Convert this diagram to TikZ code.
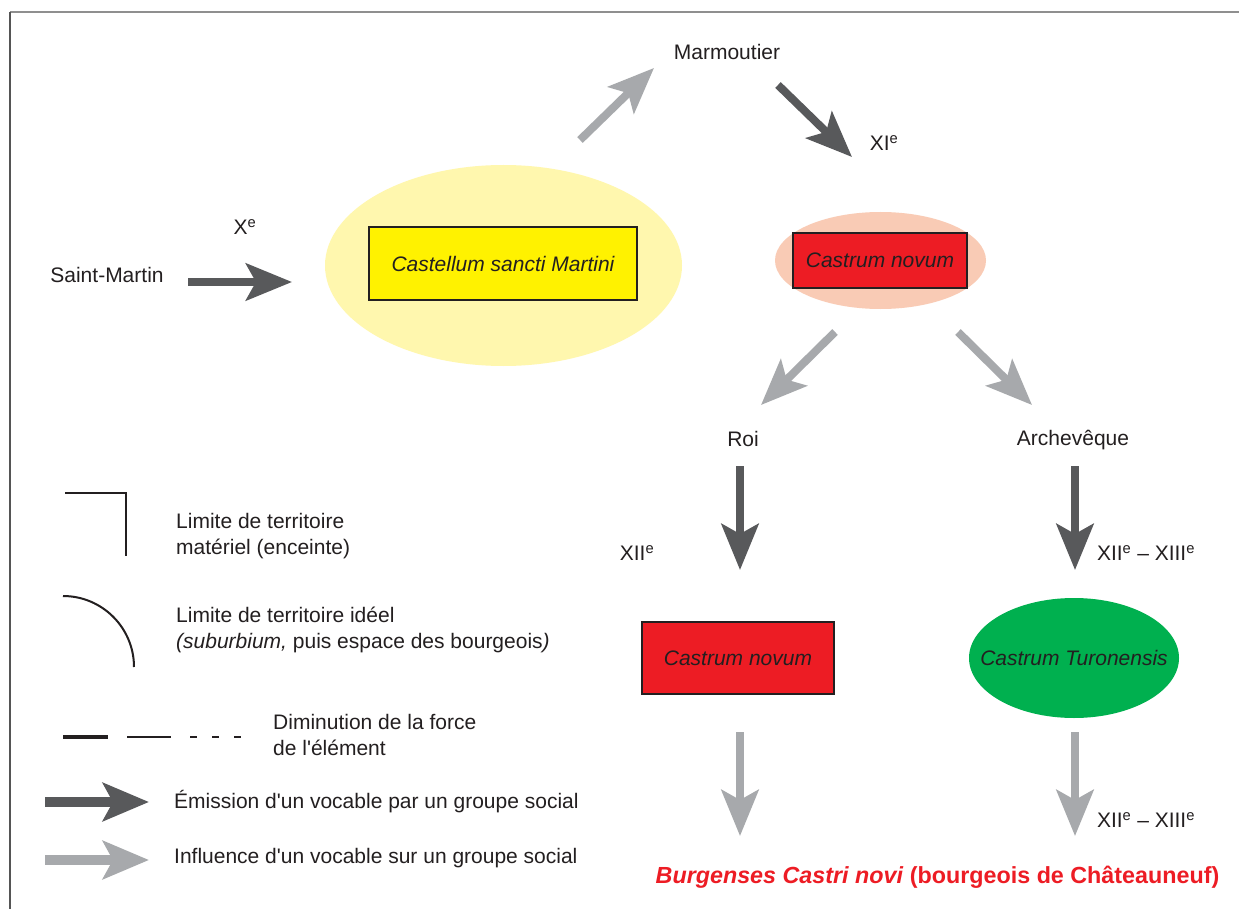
\documentclass[tikz,border=0pt]{standalone}
\usepackage{fontspec}
\setmainfont{Liberation Sans}
\usetikzlibrary{arrows.meta,shapes.geometric}
\definecolor{ink}{HTML}{231F20}
\definecolor{darkar}{HTML}{58595B}
\definecolor{grayar}{HTML}{A7A9AC}
\definecolor{lightyel}{HTML}{FFF7AE}
\definecolor{yel}{HTML}{FFF200}
\definecolor{redc}{HTML}{ED1C24}
\definecolor{pinkc}{HTML}{F9CBB5}
\definecolor{greenc}{HTML}{00B04F}
\definecolor{frametop}{HTML}{8F8F8F}
\definecolor{frameleft}{HTML}{555555}
\begin{document}
\begin{tikzpicture}[x=1pt,y=-1pt,
  txt/.style={inner sep=0pt, text=ink, font=\fontsize{21}{25}\selectfont},
  ltxt/.style={inner sep=0pt, text=ink, anchor=west, align=left, font=\fontsize{21}{26}\selectfont},
  darrow/.style={draw=darkar, line width=8pt, -{Stealth[length=46pt,width=37pt,inset=10pt]}},
  garrow/.style={draw=grayar, line width=8pt, -{Stealth[length=46pt,width=37pt,inset=10pt]}},
  ldarrow/.style={draw=darkar, line width=10pt, -{Stealth[length=46pt,width=38pt,inset=10pt]}},
  lgarrow/.style={draw=grayar, line width=10pt, -{Stealth[length=46pt,width=38pt,inset=10pt]}},
  box/.style={draw=ink, line width=2.5pt, inner sep=0pt, text=ink, font=\itshape\fontsize{21}{25}\selectfont},
  blob/.style={ellipse, inner sep=0pt, draw=none},
]
\useasboundingbox[fill=white] (0,0) rectangle (1239,909);
% frame
\coordinate (fTL) at (10,12);
\coordinate (fTR) at (1239,12);
\coordinate (fBL) at (10,909);
\draw[line width=2pt, frametop] (fTL) -- (fTR);
\draw[line width=2pt, frameleft] (fTL) -- (fBL);

% shapes
\node[blob, fill=lightyel, minimum width=357pt, minimum height=201pt] (yell) at (503.5,265.5) {};
\node[box, fill=yel, minimum width=268pt, minimum height=73pt] (castm) at (503,263.5) {Castellum sancti Martini};
\node[blob, fill=pinkc, minimum width=211pt, minimum height=97pt] (pink) at (880.5,260.5) {};
\node[box, fill=redc, minimum width=174pt, minimum height=55pt] (cn1) at (880,260.5) {Castrum novum};
\node[box, fill=redc, minimum width=192pt, minimum height=72pt] (cn2) at (738,658) {Castrum novum};
\node[blob, fill=greenc, minimum width=210pt, minimum height=120pt] (ct) at (1074,658) {};
\node[inner sep=0pt, text=ink, font=\itshape\fontsize{21}{25}\selectfont] (ctt) at (ct.center) {Castrum Turonensis};

% labels
\node[txt] (marm) at (727,52) {Marmoutier};
\node[txt] (xi) at (884,143) {XI\textsuperscript{e}};
\node[txt] (x) at (245,227) {X\textsuperscript{e}};
\node[txt] (sm) at (107,275) {Saint-Martin};
\node[txt] (roi) at (743,439) {Roi};
\node[txt] (arch) at (1073,440) {Archevêque};
\node[txt] (xii) at (637,553) {XII\textsuperscript{e}};
\node[txt] (xiiA) at (1146,553) {XII\textsuperscript{e} – XIII\textsuperscript{e}};
\node[txt] (xiiB) at (1146,820) {XII\textsuperscript{e} – XIII\textsuperscript{e}};
\node[inner sep=0pt, text=redc, font=\bfseries\fontsize{23.3}{27}\selectfont] (burg) at (937.5,877) {\textit{Burgenses Castri novi} (bourgeois de Châteauneuf)};

% arrow end points
\coordinate (a1s) at (188,282); \coordinate (a1e) at (292,282);
\coordinate (a2s) at (580,140); \coordinate (a2e) at (654,68);
\coordinate (a3s) at (778,85);  \coordinate (a3e) at (852,157);
\coordinate (a4s) at (835,332); \coordinate (a4e) at (761,405);
\coordinate (a5s) at (958,332); \coordinate (a5e) at (1032,405);
\coordinate (a6s) at (740,466); \coordinate (a6e) at (740,570);
\coordinate (a7s) at (1075,466); \coordinate (a7e) at (1075,570);
\coordinate (a8s) at (740,732); \coordinate (a8e) at (740,836);
\coordinate (a9s) at (1075,732); \coordinate (a9e) at (1075,836);

\draw[darrow] (a1s) -- (a1e);
\draw[garrow] (a2s) -- (a2e);
\draw[darrow] (a3s) -- (a3e);
\draw[garrow] (a4s) -- (a4e);
\draw[garrow] (a5s) -- (a5e);
\draw[darrow] (a6s) -- (a6e);
\draw[darrow] (a7s) -- (a7e);
\draw[garrow] (a8s) -- (a8e);
\draw[garrow] (a9s) -- (a9e);

% legend
\coordinate (c1) at (65,493); \coordinate (c2) at (126,493); \coordinate (c3) at (126,556);
\draw[line width=2pt, ink] (c1) -- (c2) -- (c3);
\node[ltxt] (l1) at (176,536) {Limite de territoire\\matériel (enceinte)};

\coordinate (r1) at (63,596); \coordinate (r2) at (134,667);
\draw[line width=2pt, ink] (r1) .. controls (102.2,596) and (134,627.8) .. (r2);
\node[ltxt] (l2) at (176,630) {Limite de territoire idéel\\\textit{(suburbium,} puis espace des bourgeois\textit{)}};

\coordinate (d1) at (63,737); \coordinate (d2) at (108,737);
\coordinate (d3) at (127,737); \coordinate (d4) at (171,737);
\coordinate (d5) at (190,737); \coordinate (d6) at (241,737);
\draw[line width=4pt, ink] (d1) -- (d2);
\draw[line width=1.5pt, ink] (d3) -- (d4);
\draw[line width=1.5pt, ink, dash pattern=on 7pt off 15pt] (d5) -- (d6);
\node[ltxt] (l3) at (273,735) {Diminution de la force\\de l\textquotesingle élément};

\coordinate (e1) at (45,802); \coordinate (e2) at (149,802);
\draw[ldarrow] (e1) -- (e2);
\node[ltxt] (l4) at (174,802) {Émission d\textquotesingle un vocable par un groupe social};

\coordinate (g1) at (45,860); \coordinate (g2) at (149,860);
\draw[lgarrow] (g1) -- (g2);
\node[ltxt] (l5) at (174,858) {Influence d\textquotesingle un vocable sur un groupe social};
\end{tikzpicture}
\end{document}
